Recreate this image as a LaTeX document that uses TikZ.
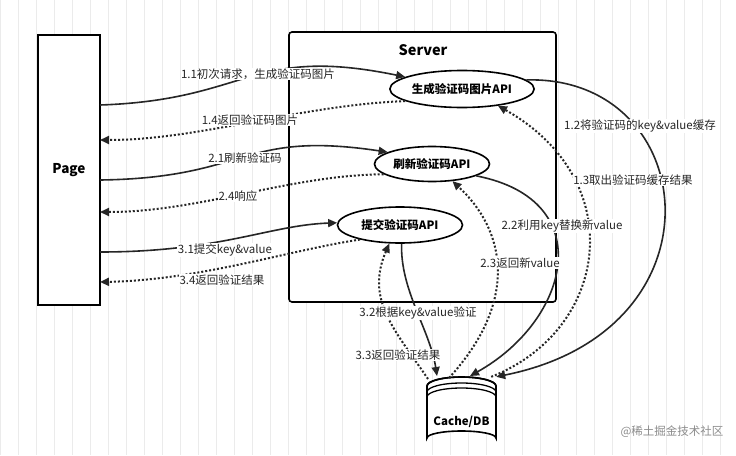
\documentclass[tikz,border=0pt]{standalone}
\usepackage{fontspec}
\setmainfont{Noto Sans CJK SC}
\usetikzlibrary{arrows.meta,shapes.geometric}
\begin{document}
\begin{tikzpicture}[x=1pt,y=-1pt,
  lbl/.style={font=\fontsize{11.5}{13}\selectfont,fill=white,inner sep=0.5pt,text=black!85},
  api/.style={ellipse,draw,line width=1.6pt,font=\bfseries\fontsize{11.5}{13}\selectfont,inner sep=1pt},
  sol/.style={line width=1.6pt,-{Triangle[length=9pt,width=8pt]},draw=black!85},
  dot/.style={line width=2pt,dotted,-{Triangle[length=9pt,width=8pt]},draw=black!85},
  box/.style={draw,line width=1.6pt}]
\useasboundingbox (0,0) rectangle (736,455);
\fill[white] (0,0) rectangle (736,455);
\draw[black!8,line width=0.6pt,step=18] (0,0) grid (736,455);
\node[box,fill=white,minimum width=62,minimum height=270] (page) at (69,170) {};
\node[font=\bfseries\fontsize{13.5}{15}\selectfont] at (69,170) {Page};
\draw[box,fill=white,rounded corners=3pt] (289,32) rectangle (556,302);
\node[font=\bfseries\fontsize{14.5}{16}\selectfont] (srv) at (423,50) {Server};
\node[api,fill=white,minimum width=136,minimum height=37] (g) at (462,89) {生成验证码图片API};
\node[api,fill=white,minimum width=115,minimum height=35] (r) at (432,164) {刷新验证码API};
\node[api,fill=white,minimum width=125,minimum height=36] (s) at (400,225) {提交验证码API};
% cylinder
\node[minimum width=69,minimum height=68] (db) at (461.5,411) {};
\draw[line width=1.6pt,fill=white] (427,386) -- (427,438) arc[start angle=180,end angle=360,x radius=34.5,y radius=7] -- (496,386) arc[start angle=0,end angle=-180,x radius=34.5,y radius=9] -- cycle;
\draw[line width=1.6pt] (427,386) arc[start angle=180,end angle=360,x radius=34.5,y radius=9];
\draw[line width=1.3pt] (427,392) arc[start angle=180,end angle=360,x radius=34.5,y radius=9];
\draw[line width=1.3pt] (427,397) arc[start angle=180,end angle=360,x radius=34.5,y radius=9];
\node[font=\bfseries\fontsize{11.5}{13}\selectfont] at (461.5,422) {Cache/DB};
\coordinate (p1) at (100,105); \coordinate (p2) at (100,140);
\coordinate (p3) at (100,180); \coordinate (p4) at (100,212);
\coordinate (p5) at (100,252); \coordinate (p6) at (100,282);
% left connectors
\draw[sol] (p1) .. controls (250,100) and (250,45) .. (g.180-12);
\node[lbl] at (258,74) {1.1初次请求，生成验证码图片};
\draw[dot] (g.192) .. controls (300,105) and (200,140) .. (p2);
\node[lbl] at (250,120) {1.4返回验证码图片};
\draw[sol] (p3) .. controls (250,178) and (240,130) .. (r.165);
\node[lbl] at (245,158) {2.1刷新验证码};
\draw[dot] (r.192) .. controls (290,175) and (200,212) .. (p4);
\node[lbl] at (238,196) {2.4响应};
\draw[sol] (p5) .. controls (220,252) and (270,225) .. (s.178);
\node[lbl] at (225,250) {3.1提交key\&value};
\draw[dot] (s.200) .. controls (290,250) and (200,280) .. (p6);
\node[lbl] at (222,280) {3.4返回验证结果};
% right connectors
\draw[sol] (g.8) .. controls (700,75) and (730,330) .. (db.north east);
\draw[dot] (db.north east) ++(-5,0) .. controls (610,330) and (630,180) .. (g.335);
\node[lbl] at (640,126) {1.2将验证码的key\&value缓存};
\node[lbl] at (633,180) {1.3取出验证码缓存结果};
\draw[sol] (r.345) .. controls (600,200) and (570,320) .. (470,376);
\draw[dot] (449,378) .. controls (520,300) and (505,230) .. (r.320);
\node[lbl] at (562,226) {2.2利用key替换新value};
\node[lbl] at (520,263) {2.3返回新value};
\draw[sol] (s.275) .. controls (400,290) and (430,330) .. (437,376);
\draw[dot] (428,379) .. controls (395,330) and (365,300) .. (s.240);
\node[lbl] at (418,313) {3.2根据key\&value验证};
\node[lbl] at (398,355) {3.3返回验证结果};
\node[font=\fontsize{11.5}{13}\selectfont,text=black!45] at (672,432) {@稀土掘金技术社区};
\end{tikzpicture}
\end{document}
